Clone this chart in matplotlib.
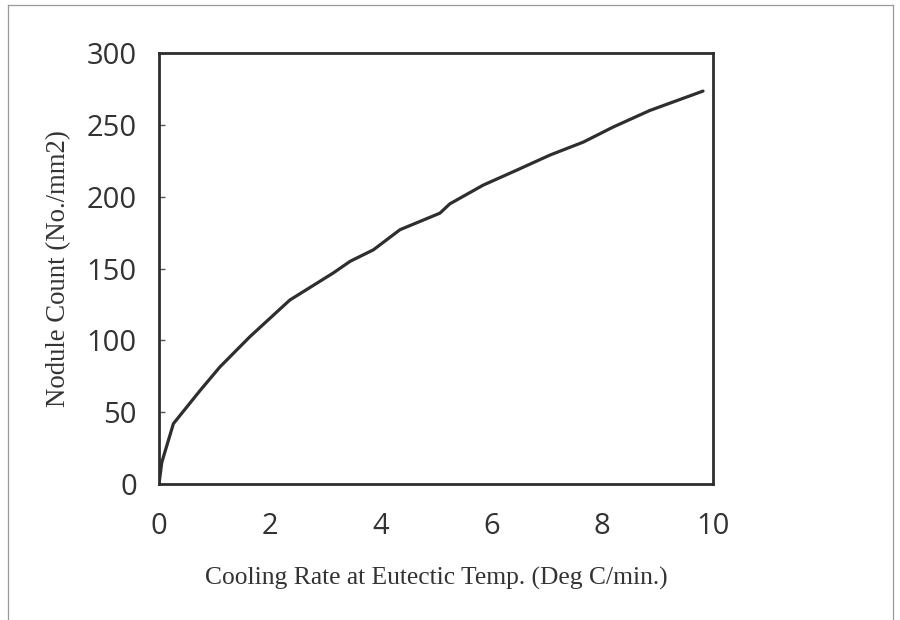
import matplotlib
matplotlib.use("Agg")
import matplotlib.pyplot as plt
from matplotlib.lines import Line2D

# Data
cooling_rate = [0.0, 0.05, 0.26, 0.74, 1.10, 1.64, 2.36, 3.15, 3.45, 3.87, 4.35,
                5.07, 5.25, 5.85, 6.46, 7.06, 7.66, 8.20, 8.86, 9.82]
nodule_count = [0.0, 15.0, 42.0, 65.0, 81.5, 102.5, 128.0, 147.0, 155.0, 163.0, 177.0,
                188.5, 195.0, 208.0, 218.5, 229.0, 238.0, 248.5, 260.0, 273.5]

x_ticks = [0, 2, 4, 6, 8, 10]
y_ticks = [0, 50, 100, 150, 200, 250, 300]
x_label = "Cooling Rate at Eutectic Temp. (Deg C/min.)"
y_label = "Nodule Count (No./mm2)"

fig = plt.figure(figsize=(9, 6.2), dpi=100)
ax = fig.add_axes([159/900, 1-484/620, (713-159)/900, (484-53)/620])

ax.plot(cooling_rate, nodule_count, color="#2e2e2e", lw=2.3, solid_capstyle="round")

ax.set_xlim(0, 10)
ax.set_ylim(0, 300)
ax.set_xticks(x_ticks)
ax.set_yticks(y_ticks)
for s in ax.spines.values():
    s.set_linewidth(2.0)
    s.set_color("#2e2e2e")

tick_font = dict(family="Open Sans", size=21, color="#333333")
ax.set_xticklabels([str(v) for v in x_ticks], **tick_font)
ax.set_yticklabels([str(v) for v in y_ticks], **tick_font)
ax.tick_params(axis="x", length=0, pad=20)
ax.tick_params(axis="y", direction="in", length=4, width=1, color="#555555", pad=16)

ax.set_xlabel(x_label, family="Liberation Serif", size=18.4, color="#333333", labelpad=19)
ax.set_ylabel(y_label, family="Liberation Serif", size=19.3, color="#333333", labelpad=11)

# outer frame of the figure
frame_kw = dict(color="#999999", lw=0.9, transform=fig.transFigure)
fig.add_artist(Line2D([8/900, 8/900], [0, 1-5/620], **frame_kw))
fig.add_artist(Line2D([893/900, 893/900], [0, 1-5/620], **frame_kw))
fig.add_artist(Line2D([8/900, 893/900], [1-5/620, 1-5/620], **frame_kw))

fig.savefig("out.png", dpi=100)
